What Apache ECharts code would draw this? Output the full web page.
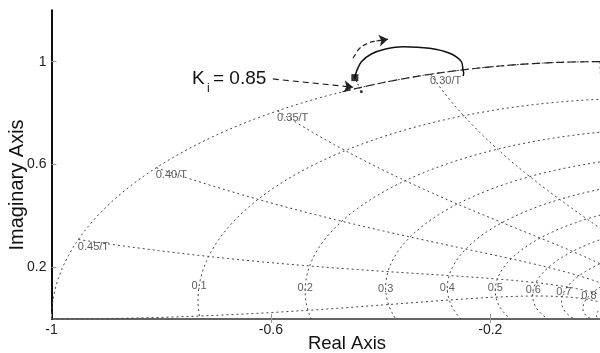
<!DOCTYPE html>
<html><head><meta charset="utf-8">
<script src="https://cdn.jsdelivr.net/npm/echarts@6/dist/echarts.min.js"></script>
<style>html,body{margin:0;padding:0;background:#fff}#c{width:600px;height:353px}</style>
</head><body><div id="c"></div>
<script>
// ---- axis ticks ----
const xTicks = [-1, -0.6, -0.2];
const xTopTicks = [-0.6, -0.2];
const yTicks = [0.2, 0.6, 1];
// ---- z-plane grid definitions ----
const dampingRatios = [0.1, 0.2, 0.3, 0.4, 0.5, 0.6, 0.7, 0.8, 0.9];
const natFreqs = [0.05, 0.10, 0.15, 0.20, 0.25, 0.30, 0.35, 0.40, 0.45, 0.50]; // in 1/T
// ---- root locus branch ----
const locusX = [-0.4472, -0.4441, -0.4350, -0.4168, -0.3925, -0.3592, -0.3106, -0.2741, -0.2528, -0.2499, -0.2486, -0.2495];
const locusY = [0.9378, 0.9611, 1.0000, 1.0299, 1.0482, 1.0583, 1.0521, 1.0327, 1.0000, 0.9705, 0.9549, 0.9440];
const gainPoint = [-0.447, 0.938];       // Ki = 0.85
const startDot = [-0.435, 0.883];
const kiArrowFrom = [-0.5965, 0.9328];
const kiArrowTo = [-0.4500, 0.9010];
const turnArrowX = [-0.4503, -0.4440, -0.4381, -0.4230, -0.4077, -0.3865];
const turnArrowY = [1.0132, 1.0350, 1.0521, 1.0715, 1.0804, 1.0871];
const dashedCircleFromDeg = 118;
const dashedCircleToDeg = 90;

const FONT = 'Liberation Sans, Arial, Helvetica, sans-serif';

function zpt(zeta, wnT) {
  const r = Math.exp(-zeta * wnT);
  const a = wnT * Math.sqrt(1 - zeta * zeta);
  return [r * Math.cos(a), r * Math.sin(a)];
}
const gridStyle = { color: '#444', width: 1, type: [2, 3] };
const series = [];
function addLine(pts, style) {
  series.push({ type: 'line', data: pts, symbol: 'none', silent: true, lineStyle: style, z: 1 });
}
// unit circle (zeta = 0) and damping spirals
[0].concat(dampingRatios).forEach(z => {
  const maxW = Math.PI / Math.sqrt(1 - z * z);
  const pts = [];
  const N = 240;
  for (let i = 0; i <= N; i++) pts.push(zpt(z, maxW * i / N));
  addLine(pts, gridStyle);
});
// natural frequency curves
natFreqs.forEach(f => {
  const th = 2 * Math.PI * f;
  const pts = [];
  const N = 120;
  for (let i = 0; i <= N; i++) pts.push(zpt(i / N, th));
  addLine(pts, gridStyle);
});
// dashed overlay on unit circle
{
  const pts = [];
  for (let d = dashedCircleFromDeg; d >= dashedCircleToDeg; d -= 0.5) {
    const a = d * Math.PI / 180;
    pts.push([Math.cos(a), Math.sin(a)]);
  }
  addLine(pts, { color: '#222', width: 1.2, type: [8, 4] });
}
// damping labels at wn = 0.95*pi/T
series.push({
  type: 'scatter', symbolSize: 1, silent: true, itemStyle: { color: 'rgba(0,0,0,0)' },
  data: dampingRatios.map(z => ({ value: zpt(z, 0.95 * Math.PI), name: String(z) })).filter(d => d.value[0] < -0.005),
  label: { show: true, position: 'inside', formatter: p => p.name, fontSize: 11, color: '#333', fontFamily: FONT }, z: 3
});
// frequency labels at unit circle
series.push({
  type: 'scatter', symbolSize: 1, silent: true, itemStyle: { color: 'rgba(0,0,0,0)' },
  data: natFreqs.filter(f => f > 0.25 && f < 0.5).map(f => ({ value: [Math.cos(2 * Math.PI * f), Math.sin(2 * Math.PI * f)], name: f.toFixed(2) + '/T' })),
  label: { show: true, position: [0, 2], align: 'left', verticalAlign: 'top', formatter: p => p.name, fontSize: 11, color: '#333', fontFamily: FONT }, z: 3
});
// root locus
series.push({
  type: 'line', smooth: 0.4, symbol: 'none', silent: true,
  data: locusX.map((x, i) => [x, locusY[i]]),
  lineStyle: { color: '#111', width: 1.5 }, z: 5
});
// short dotted start segment
series.push({ type: 'line', symbol: 'none', silent: true, data: [gainPoint, startDot], lineStyle: { color: '#222', width: 1, type: [1.5, 2] }, z: 5 });
series.push({ type: 'scatter', silent: true, symbol: 'circle', symbolSize: 3, itemStyle: { color: '#111' }, data: [startDot], z: 6 });
series.push({ type: 'scatter', silent: true, symbol: 'rect', symbolSize: 7, itemStyle: { color: '#000' }, data: [gainPoint], z: 6 });
// curved direction arrow
const turnPts = turnArrowX.map((x, i) => [x, turnArrowY[i]]);
series.push({
  type: 'line', smooth: 0.5, symbol: 'none', silent: true, data: turnPts,
  lineStyle: { color: '#222', width: 1.2, type: [5, 3] }, z: 6,
  markLine: {
    silent: true, symbol: ['none', 'arrow'], symbolSize: 9, label: { show: false }, animation: false,
    lineStyle: { type: 'solid', color: '#222', width: 1.2 },
    data: [[{ coord: turnPts[turnPts.length - 2] }, { coord: turnPts[turnPts.length - 1] }]]
  }
});
// Ki arrow
series.push({
  type: 'line', data: [], silent: true,
  markLine: {
    silent: true, symbol: ['none', 'arrow'], symbolSize: 9, label: { show: false }, animation: false,
    lineStyle: { type: [6, 4], color: '#222', width: 1.2 },
    data: [[{ coord: kiArrowFrom }, { coord: kiArrowTo }]]
  }, z: 6
});

const chart = echarts.init(document.getElementById('c'), null, { renderer: 'canvas' });
chart.setOption({
  animation: false,
  backgroundColor: '#fff',
  grid: { left: 51.5, right: 0, top: 10.2, bottom: 34, containLabel: false },
  xAxis: [{
    type: 'value', min: -1, max: 0, position: 'bottom',
    axisLine: { show: true, onZero: false, lineStyle: { color: '#333', width: 1.5 } },
    axisTick: { show: true, inside: true, length: 5, customValues: xTicks, lineStyle: { color: '#999' } },
    axisLabel: { customValues: xTicks, fontSize: 14, color: '#222', margin: 4, fontFamily: FONT },
    splitLine: { show: false }
  }, {
    type: 'value', min: -1, max: 0, position: 'top',
    axisLine: { show: false },
    axisTick: { show: true, inside: true, length: 4, customValues: xTopTicks, lineStyle: { color: '#999' } },
    axisLabel: { show: false }, splitLine: { show: false }
  }],
  yAxis: {
    type: 'value', min: 0, max: 1.2,
    axisLine: { show: true, onZero: false, lineStyle: { color: '#111', width: 2 } },
    axisTick: { show: true, inside: true, length: 5, customValues: yTicks, lineStyle: { color: '#999' } },
    axisLabel: { customValues: yTicks, fontSize: 14, color: '#222', margin: 5, fontFamily: FONT },
    splitLine: { show: false }
  },
  graphic: [
    { type: 'text', x: 347, y: 344, style: { text: 'Real Axis', fontSize: 18.5, fontFamily: FONT, fill: '#111', align: 'center', verticalAlign: 'middle' } },
    { type: 'text', x: 17, y: 185, rotation: Math.PI / 2, style: { text: 'Imaginary Axis', fontSize: 20, fontFamily: FONT, fill: '#111', align: 'center', verticalAlign: 'middle' } },
    { type: 'text', x: 192, y: 78.5, style: { text: 'K', fontSize: 19, fontFamily: FONT, fill: '#111', align: 'left', verticalAlign: 'middle' } },
    { type: 'text', x: 207, y: 88.5, style: { text: 'i', fontSize: 12, fontFamily: FONT, fill: '#111', align: 'left', verticalAlign: 'middle' } },
    { type: 'text', x: 213, y: 78.5, style: { text: '= 0.85', fontSize: 19, fontFamily: FONT, fill: '#111', align: 'left', verticalAlign: 'middle' } }
  ],
  series: series
});
</script>
</body></html>
